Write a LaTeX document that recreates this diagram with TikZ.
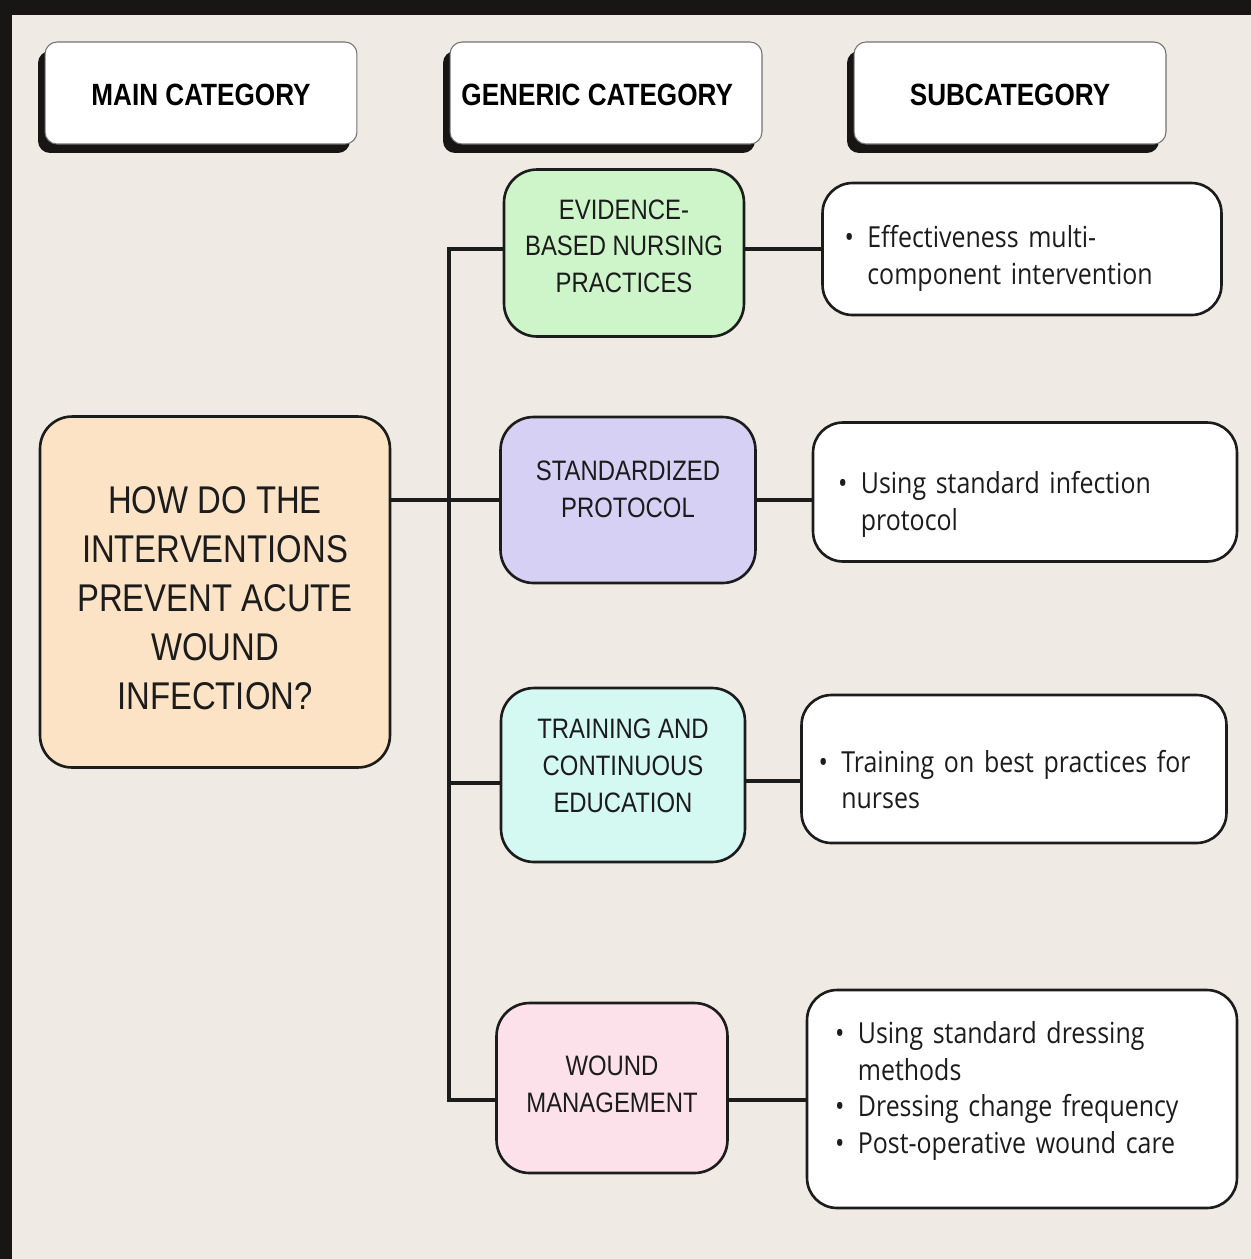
\documentclass[tikz,border=0pt]{standalone}
\usepackage{fontspec}
\usepackage{tikz}
\usetikzlibrary{positioning, shadows}
\setmainfont{Liberation Sans}
\newfontfamily\catfont[FakeStretch=0.85]{Liberation Sans}
\newfontfamily\subfont[FakeStretch=0.86]{Open Sans}
\definecolor{paper}{HTML}{EFEBE4}
\definecolor{ink}{HTML}{1C1C1C}
\definecolor{frame}{HTML}{171614}
\definecolor{peach}{HTML}{FCE3C6}
\definecolor{mint}{HTML}{CDF5C9}
\definecolor{lilac}{HTML}{D6D0F4}
\definecolor{aqua}{HTML}{D4F8F2}
\definecolor{blush}{HTML}{FCE1EA}
\newcommand{\bul}{\makebox[13pt][l]{\textbullet}}
\newcommand{\ind}{\hspace*{13pt}}
% move a block of lines up/down inside its box
\newcommand{\midlines}[2]{\raisebox{#1}[\height][\depth]{\begin{tabular}{@{}c@{}}#2\end{tabular}}}
\newcommand{\leftlines}[2]{\raisebox{#1}[\height][\depth]{\begin{tabular}{@{}l@{}}#2\end{tabular}}}

\begin{document}
\begin{tikzpicture}[
    x=0.02cm, y=-0.02cm,
    hdbox/.style={rectangle, draw=black!55, line width=0.6pt, rounded corners=0.24cm, fill=white, minimum width=6.24cm, minimum height=2.04cm, font=\catfont\bfseries\fontsize{17.5}{20}\selectfont, general shadow={fill=frame, shadow xshift=-0.14cm, shadow yshift=-0.18cm}},
    mainbox/.style={rectangle, draw=ink, line width=1.5pt, rounded corners=0.64cm, fill=peach, minimum width=7cm, minimum height=7.02cm, align=center, text=ink, font=\catfont\fontsize{22}{28}\selectfont},
    catbox/.style={rectangle, draw=ink, line width=1.5pt, rounded corners=0.66cm, align=center, text=ink, font=\catfont\fontsize{16}{21}\selectfont},
    subbox/.style={rectangle, draw=ink, line width=1.5pt, rounded corners=0.6cm, fill=white, inner sep=0pt, align=left, text=ink, font=\subfont\fontsize{16.5}{21}\selectfont},
    link/.style={line width=1.8pt, draw=ink}
]
\useasboundingbox (0,0) rectangle (1251,1259);
\fill[paper] (0,0) rectangle (1251,1259);
\fill[frame] (0,0) rectangle (1251,15);
\fill[frame] (0,0) rectangle (12,1259);

% column headers
\node[hdbox] (hmain) at (201,93) {\midlines{-3pt}{MAIN CATEGORY}};
\node[hdbox] (hgen) at (606,93) {\midlines{-3pt}{GENERIC CATEGORY\hspace*{10pt}}};
\node[hdbox] (hsub) at (1010,93) {\midlines{-3pt}{SUBCATEGORY}};

\node[mainbox] (question) at (215,592) {\midlines{-5.5pt}{HOW DO THE\\INTERVENTIONS\\PREVENT ACUTE\\WOUND\\INFECTION?}};

% generic categories
\node[catbox, fill=mint, minimum width=4.8cm, minimum height=3.34cm] (ebnp) at (624,253) {\midlines{2.5pt}{EVIDENCE-\\BASED NURSING\\PRACTICES}};
\node[catbox, fill=lilac, minimum width=5.1cm, minimum height=3.32cm] (protocol) at (628,500) {\midlines{5pt}{STANDARDIZED\\PROTOCOL}};
\node[catbox, fill=aqua, minimum width=4.88cm, minimum height=3.48cm] (training) at (623,775) {\midlines{4pt}{TRAINING AND\\CONTINUOUS\\EDUCATION}};
\node[catbox, fill=blush, minimum width=4.62cm, minimum height=3.4cm] (wound) at (612,1088) {\midlines{1pt}{WOUND\\MANAGEMENT}};

% subcategories
\node[subbox, minimum width=7.98cm, minimum height=2.64cm, text width=7.1cm] (sub1) at (1022,249) {\leftlines{-5.5pt}{\bul Effectiveness multi-\\\ind component intervention}};
\node[subbox, minimum width=8.48cm, minimum height=2.78cm, text width=7.48cm] (sub2) at (1025,492) {\leftlines{-7pt}{\bul Using standard infection\\\ind protocol}};
\node[subbox, minimum width=8.5cm, minimum height=2.96cm, text width=7.82cm] (sub3) at (1014,769) {\leftlines{-8pt}{\bul Training on best practices for\\\ind nurses}};
\node[subbox, minimum width=8.6cm, minimum height=4.36cm, text width=7.48cm] (sub4) at (1022,1099) {\leftlines{4.5pt}{\bul Using standard dressing\\\ind methods\\\bul Dressing change frequency\\\bul Post-operative wound care}};

\coordinate (trunk) at (449,249);
\draw[link] (ebnp.west |- trunk) -- (trunk) |- ([yshift=-0.24cm]wound.west);
\draw[link] (question.east |- protocol.west) -- (protocol.west);
\draw[link] ([yshift=-0.16cm]training.west) -- ([yshift=-0.16cm]training.west -| trunk);
\draw[link] (ebnp.east |- trunk) -- (sub1.west |- trunk);
\draw[link] (protocol.east) -- (protocol.east -| sub2.west);
\draw[link] ([yshift=-0.12cm]training.east) -- ([yshift=-0.12cm]training.east -| sub3.west);
\draw[link] ([yshift=-0.24cm]wound.east) -- ([yshift=-0.24cm]wound.east -| sub4.west);
\end{tikzpicture}
\end{document}
